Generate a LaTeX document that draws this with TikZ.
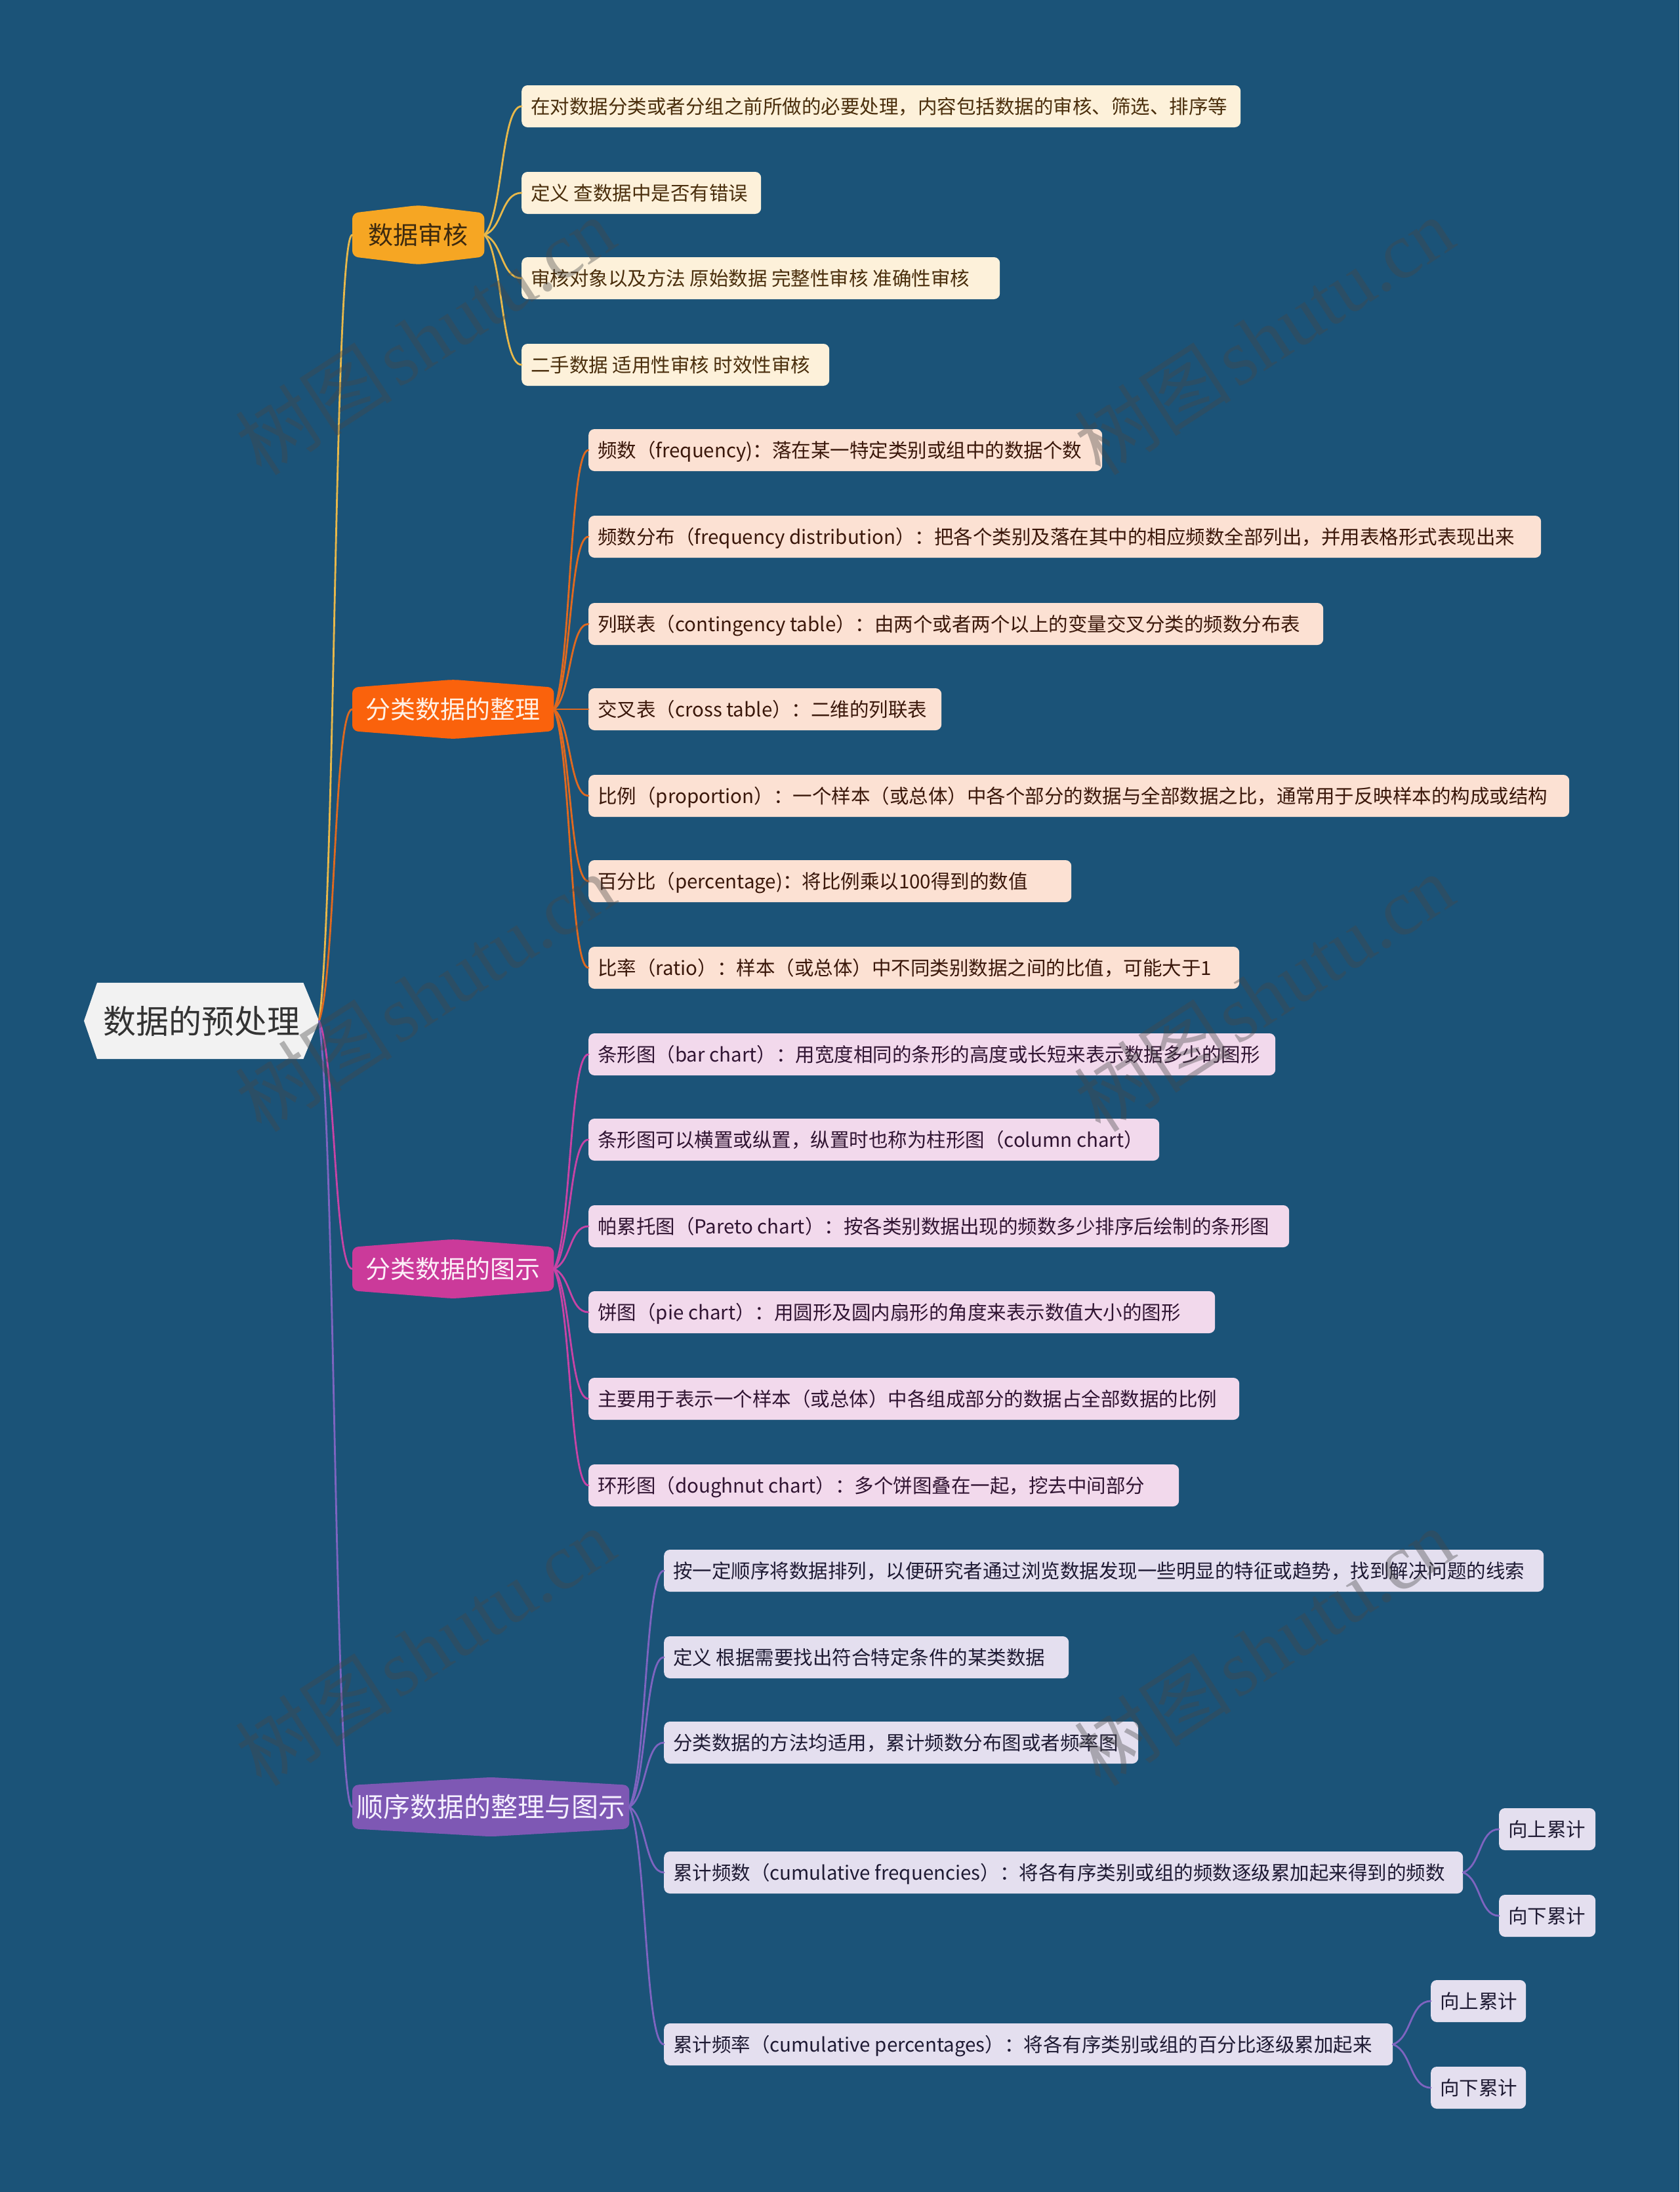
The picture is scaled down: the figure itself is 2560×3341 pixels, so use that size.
\documentclass[tikz,border=0pt]{standalone}
\usepackage{fontspec}
\setmainfont{Noto Sans CJK SC}
\newfontfamily\wmserif{Liberation Serif}
\usetikzlibrary{calc,backgrounds}
\definecolor{bgc}{HTML}{1B5378}
\definecolor{rootf}{HTML}{F2F2F2}
\definecolor{roott}{HTML}{333333}
\definecolor{wmc}{HTML}{474747}
\definecolor{aF}{HTML}{F6A623}\definecolor{aT}{HTML}{3D2A0F}\definecolor{aL}{HTML}{E8B84A}\definecolor{aLF}{HTML}{FDF1DA}\definecolor{aLT}{HTML}{4A2E0C}
\definecolor{bF}{HTML}{FA620C}\definecolor{bT}{HTML}{FFF1E6}\definecolor{bL}{HTML}{E0691F}\definecolor{bLF}{HTML}{FCE1D3}\definecolor{bLT}{HTML}{3A170A}
\definecolor{cF}{HTML}{CB3A9A}\definecolor{cT}{HTML}{FCEFF8}\definecolor{cL}{HTML}{C843A5}\definecolor{cLF}{HTML}{F2D9EC}\definecolor{cLT}{HTML}{301432}
\definecolor{dF}{HTML}{7E58B4}\definecolor{dT}{HTML}{F5F0FF}\definecolor{dL}{HTML}{7E64C0}\definecolor{dLF}{HTML}{E4DFEF}\definecolor{dLT}{HTML}{1E1A33}
\tikzset{
  leafbox/.style={rectangle, rounded corners=9pt, minimum height=64pt, inner xsep=14pt, inner ysep=0pt,
    font=\fontsize{29.5}{34}\selectfont, text height=26pt, text depth=3.5pt},
  aleaf/.style={leafbox, fill=aLF, text=aLT},
  bleaf/.style={leafbox, fill=bLF, text=bLT},
  cleaf/.style={leafbox, fill=cLF, text=cLT},
  dleaf/.style={leafbox, fill=dLF, text=dLT},
  conn/.style={to path={let \p1=(\tikztostart), \p2=(\tikztotarget) in
     .. controls ({\x1+0.5*(\x2-\x1)},{\y1+0.15*(\y2-\y1)}) and ({\x1+0.45*(\x2-\x1)},\y2) .. (\tikztotarget)}},
  link/.style={line width=2.8pt, line cap=round, draw=#1},
  brnode/.style={anchor=west, minimum height=66pt, inner sep=0pt},
  wm/.style={rotate=33, text=wmc, text opacity=0.38, font=\fontsize{120}{128}\selectfont}
}
\newcommand\leaf[6]{\node[#5, anchor=west, minimum width=#4pt] (#1) at (#2,#3) {\hbox to \dimexpr#4pt-28pt\relax{#6\hss}};}
\newcommand\brshape[2]{\begin{scope}[on background layer]
  \fill[#2, rounded corners=9pt] (#1.north west) -- ([yshift=12pt]#1.north) -- (#1.north east) -- (#1.south east) -- ([yshift=-12pt]#1.south) -- (#1.south west) -- cycle;
\end{scope}}
\newcommand\wmtext{树图\kern8pt{\wmserif shutu.cn}}
\begin{document}
\begin{tikzpicture}[x=1pt,y=-1pt]
\begin{scope}[on background layer]
\fill[bgc] (0,0) rectangle (2560,3341);
\end{scope}
\useasboundingbox (0,0) rectangle (2560,3341);

% root
\node[anchor=west, minimum width=358pt, minimum height=116pt, inner sep=0pt, text=roott,
  font=\fontsize{50}{56}\selectfont, text height=44pt, text depth=6pt] (root) at (128,1556) {数据的预处理};
\begin{scope}[on background layer]
\fill[rootf] (root.west) -- ([xshift=20pt]root.north west) -- ([xshift=-24pt]root.north east) -- (root.east)
  -- ([xshift=-24pt]root.south east) -- ([xshift=20pt]root.south west) -- cycle;
\end{scope}

% branches
\node[brnode, minimum width=201pt, text=aT, font=\fontsize{38}{42}\selectfont, text height=33.4pt, text depth=4.6pt] (b1) at (537,358) {数据审核};
\brshape{b1}{aF}
\node[brnode, minimum width=307pt, text=bT, font=\fontsize{38}{42}\selectfont, text height=33.4pt, text depth=4.6pt] (b2) at (537,1081) {分类数据的整理};
\brshape{b2}{bF}
\node[brnode, minimum width=307pt, text=cT, font=\fontsize{38}{42}\selectfont, text height=33.4pt, text depth=4.6pt] (b3) at (537,1934) {分类数据的图示};
\brshape{b3}{cF}
\node[brnode, minimum width=422pt, text=dT, font=\fontsize{41}{45}\selectfont, text height=36.1pt, text depth=4.9pt] (b4) at (537,2754) {顺序数据的整理与图示};
\brshape{b4}{dF}

% leaves of b1
\leaf{a1}{795}{162}{1096}{aleaf}{在对数据分类或者分组之前所做的必要处理，内容包括数据的审核、筛选、排序等}
\leaf{a2}{795}{294}{365}{aleaf}{定义 查数据中是否有错误}
\leaf{a3}{795}{424}{729}{aleaf}{审核对象以及方法 原始数据 完整性审核 准确性审核}
\leaf{a4}{795}{556}{469}{aleaf}{二手数据 适用性审核 时效性审核}

% leaves of b2
\leaf{p1}{897}{686}{783}{bleaf}{频数（frequency)：落在某一特定类别或组中的数据个数}
\leaf{p2}{897}{818}{1452}{bleaf}{频数分布（frequency distribution）：把各个类别及落在其中的相应频数全部列出，并用表格形式表现出来}
\leaf{p3}{897}{951}{1120}{bleaf}{列联表（contingency table）：由两个或者两个以上的变量交叉分类的频数分布表}
\leaf{p4}{897}{1081}{538}{bleaf}{交叉表（cross table）：二维的列联表}
\leaf{p5}{897}{1213}{1495}{bleaf}{比例（proportion）：一个样本（或总体）中各个部分的数据与全部数据之比，通常用于反映样本的构成或结构}
\leaf{p6}{897}{1343}{736}{bleaf}{百分比（percentage)：将比例乘以100得到的数值}
\leaf{p7}{897}{1475}{992}{bleaf}{比率（ratio）：样本（或总体）中不同类别数据之间的比值，可能大于1}

% leaves of b3
\leaf{c1}{897}{1607}{1047}{cleaf}{条形图（bar chart）：用宽度相同的条形的高度或长短来表示数据多少的图形}
\leaf{c2}{897}{1737}{870}{cleaf}{条形图可以横置或纵置，纵置时也称为柱形图（column chart）}
\leaf{c3}{897}{1869}{1068}{cleaf}{帕累托图（Pareto chart）：按各类别数据出现的频数多少排序后绘制的条形图}
\leaf{c4}{897}{2000}{955}{cleaf}{饼图（pie chart）：用圆形及圆内扇形的角度来表示数值大小的图形}
\leaf{c5}{897}{2132}{992}{cleaf}{主要用于表示一个样本（或总体）中各组成部分的数据占全部数据的比例}
\leaf{c6}{897}{2264}{900}{cleaf}{环形图（doughnut chart）：多个饼图叠在一起，挖去中间部分}

% leaves of b4
\leaf{d1}{1012}{2394}{1341}{dleaf}{按一定顺序将数据排列，以便研究者通过浏览数据发现一些明显的特征或趋势，找到解决问题的线索}
\leaf{d2}{1012}{2526}{617}{dleaf}{定义 根据需要找出符合特定条件的某类数据}
\leaf{d3}{1012}{2656}{723}{dleaf}{分类数据的方法均适用，累计频数分布图或者频率图}
\leaf{d4}{1012}{2854}{1218}{dleaf}{累计频数（cumulative frequencies）：将各有序类别或组的频数逐级累加起来得到的频数}
\leaf{d5}{1012}{3116}{1111}{dleaf}{累计频率（cumulative percentages）：将各有序类别或组的百分比逐级累加起来}
\leaf{d4a}{2285}{2788}{147}{dleaf}{向上累计}
\leaf{d4b}{2285}{2920}{147}{dleaf}{向下累计}
\leaf{d5a}{2181}{3050}{145}{dleaf}{向上累计}
\leaf{d5b}{2181}{3182}{145}{dleaf}{向下累计}

% connectors
\draw[link=aL] (root.east) to[conn] (b1.west);
\draw[link=bL] (root.east) to[conn] (b2.west);
\draw[link=cL] (root.east) to[conn] (b3.west);
\draw[link=dL] (root.east) to[conn] (b4.west);
\foreach \k in {a1,a2,a3,a4} \draw[link=aL] (b1.east) to[conn] (\k.west);
\foreach \k in {p1,p2,p3,p4,p5,p6,p7} \draw[link=bL] (b2.east) to[conn] (\k.west);
\foreach \k in {c1,c2,c3,c4,c5,c6} \draw[link=cL] (b3.east) to[conn] (\k.west);
\foreach \k in {d1,d2,d3,d4,d5} \draw[link=dL] (b4.east) to[conn] (\k.west);
\draw[link=dL] (d4.east) to[conn] (d4a.west);
\draw[link=dL] (d4.east) to[conn] (d4b.west);
\draw[link=dL] (d5.east) to[conn] (d5a.west);
\draw[link=dL] (d5.east) to[conn] (d5b.west);

% watermarks
\node[wm] (w1) at (648,512) {\wmtext};
\node[wm] (w2) at (1927,512) {\wmtext};
\node[wm] (w3) at (648,1513) {\wmtext};
\node[wm] (w4) at (1927,1513) {\wmtext};
\node[wm] (w5) at (648,2510) {\wmtext};
\node[wm] (w6) at (1927,2510) {\wmtext};
\end{tikzpicture}
\end{document}
